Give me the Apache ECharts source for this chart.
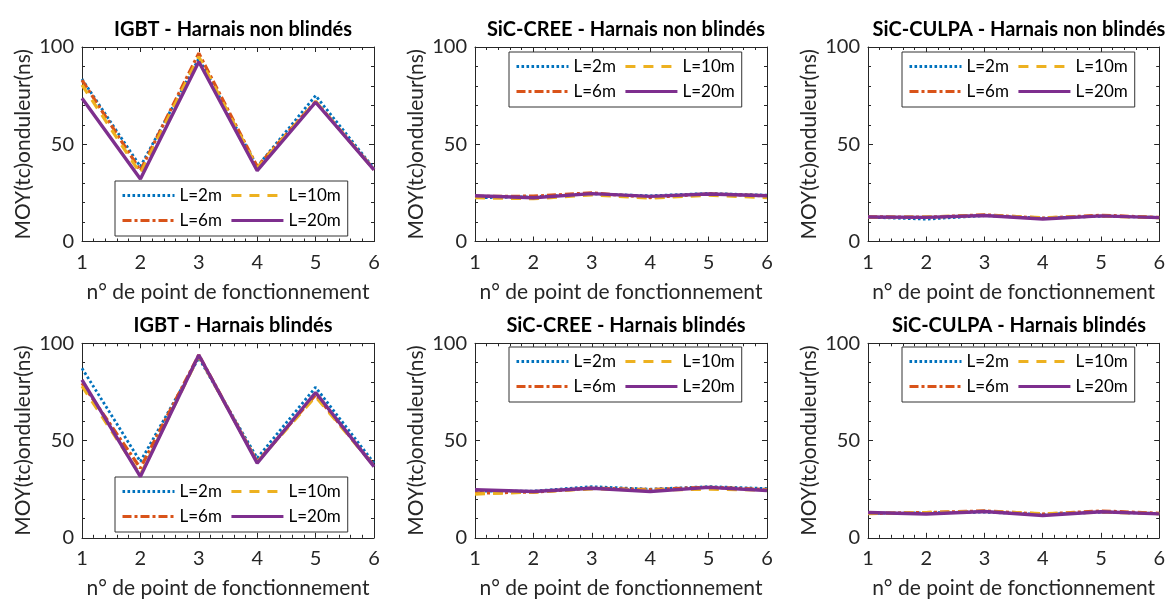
<!DOCTYPE html>
<html><head><meta charset="utf-8">
<script src="https://cdn.jsdelivr.net/npm/echarts@6/dist/echarts.min.js"></script>
<style>html,body{margin:0;padding:0;background:#fff}#chart{width:1168px;height:601px}</style>
</head><body><div id="chart"></div>
<script>
// ---- data ----
const pointNumbers = [1, 2, 3, 4, 5, 6];
const seriesNames = ['L=2m', 'L=6m', 'L=10m', 'L=20m'];
const legendOrder = ['L=2m', 'L=10m', 'L=6m', 'L=20m'];
const panelTitles = [
  'IGBT - Harnais non blindés', 'SiC-CREE - Harnais non blindés', 'SiC-CULPA - Harnais non blindés',
  'IGBT - Harnais blindés', 'SiC-CREE - Harnais blindés', 'SiC-CULPA - Harnais blindés'
];
const xAxisTitle = 'n° de point de fonctionnement';
const yAxisTitle = 'MOY(tc)onduleur(ns)';

// IGBT - non blindés
const igbtNB_2m  = [83.5, 38.5, 94.0, 38.5, 75.0, 37.5];
const igbtNB_6m  = [83.0, 36.5, 96.8, 38.5, 72.0, 37.0];
const igbtNB_10m = [80.5, 35.0, 95.0, 38.0, 72.0, 37.0];
const igbtNB_20m = [73.6, 32.1, 92.4, 36.4, 71.6, 36.8];
// SiC-CREE - non blindés
const creeNB_2m  = [22.5, 23.0, 24.5, 23.5, 24.7, 23.8];
const creeNB_6m  = [23.2, 23.3, 25.0, 22.6, 24.5, 23.5];
const creeNB_10m = [22.5, 22.0, 24.0, 22.3, 23.8, 22.6];
const creeNB_20m = [23.5, 22.5, 24.6, 23.2, 24.4, 23.5];
// SiC-CULPA - non blindés
const culpaNB_2m  = [12.5, 11.5, 13.3, 12.0, 13.0, 12.4];
const culpaNB_6m  = [12.7, 12.5, 13.7, 12.0, 13.5, 12.4];
const culpaNB_10m = [12.4, 12.6, 13.5, 12.2, 13.1, 12.2];
const culpaNB_20m = [12.6, 12.4, 13.4, 11.6, 13.2, 12.3];
// IGBT - blindés
const igbtB_2m  = [87.2, 39.2, 92.5, 41.0, 77.4, 38.4];
const igbtB_6m  = [79.5, 35.8, 94.0, 39.0, 73.5, 37.0];
const igbtB_10m = [78.0, 32.4, 93.5, 39.0, 72.6, 37.0];
const igbtB_20m = [81.2, 31.5, 94.0, 38.4, 74.7, 36.6];
// SiC-CREE - blindés
const creeB_2m  = [24.0, 24.0, 26.3, 25.0, 26.3, 25.3];
const creeB_6m  = [23.0, 23.5, 25.5, 24.8, 26.0, 24.8];
const creeB_10m = [22.5, 23.5, 25.2, 24.5, 25.0, 24.6];
const creeB_20m = [24.7, 23.8, 25.5, 23.8, 25.9, 24.3];
// SiC-CULPA - blindés
const culpaB_2m  = [12.6, 12.8, 13.2, 12.0, 13.2, 12.5];
const culpaB_6m  = [12.5, 13.0, 13.8, 12.2, 13.8, 12.6];
const culpaB_10m = [12.4, 13.0, 13.6, 12.4, 13.2, 12.4];
const culpaB_20m = [13.0, 12.2, 13.5, 11.5, 13.4, 12.3];

const panels = [
  [igbtNB_2m, igbtNB_6m, igbtNB_10m, igbtNB_20m],
  [creeNB_2m, creeNB_6m, creeNB_10m, creeNB_20m],
  [culpaNB_2m, culpaNB_6m, culpaNB_10m, culpaNB_20m],
  [igbtB_2m, igbtB_6m, igbtB_10m, igbtB_20m],
  [creeB_2m, creeB_6m, creeB_10m, creeB_20m],
  [culpaB_2m, culpaB_6m, culpaB_10m, culpaB_20m]
];

// ---- layout & style ----
const FONT = 'Lato';
const AX = '#262626';
const colLefts = [82, 475, 868];
const rowTops = [47, 343.3];
const plotW = 292, plotH = 194.5;
const legendLefts = [115, 509, 902];
const legendTops = [[181, 52, 52], [477, 347, 347]];
const lineStyles = [
  { color: '#0072BD', width: 2.8, type: [2.6, 2.4] },
  { color: '#D95319', width: 3.2, type: [9, 3, 3, 3] },
  { color: '#EDB120', width: 3.2, type: [10, 8] },
  { color: '#7E2F8E', width: 3.4, type: 'solid' }
];

const grid = [], xAxis = [], yAxis = [], series = [], title = [], legend = [];
panels.forEach((panel, p) => {
  const r = Math.floor(p / 3), c = p % 3;
  const left = colLefts[c], top = rowTops[r];
  grid.push({ left: left, top: top, width: plotW, height: plotH, containLabel: false });
  const tickCommon = {
    axisLine: { show: true, onZero: false, lineStyle: { color: AX, width: 1 } },
    axisTick: { show: true, inside: true, length: 5, lineStyle: { color: AX } },
    minorTick: { show: true, splitNumber: 5, length: 3, lineStyle: { color: AX } },
    splitLine: { show: false }, minorSplitLine: { show: false }
  };
  xAxis.push(Object.assign({
    type: 'value', gridIndex: p, position: 'bottom', min: 1, max: 6, interval: 1,
    axisLabel: { show: true, margin: 11, color: AX, fontSize: 20, fontFamily: FONT },
    name: xAxisTitle, nameLocation: 'middle', nameGap: 40,
    nameTextStyle: { color: AX, fontSize: 21, fontFamily: FONT }
  }, tickCommon));
  xAxis.push(Object.assign({
    type: 'value', gridIndex: p, position: 'top', min: 1, max: 6, interval: 1,
    axisLabel: { show: false }
  }, tickCommon));
  yAxis.push(Object.assign({
    type: 'value', gridIndex: p, position: 'left', min: 0, max: 100, interval: 50,
    axisLabel: { show: true, margin: 8, color: AX, fontSize: 20, fontFamily: FONT },
    name: yAxisTitle, nameLocation: 'middle', nameGap: 48,
    nameTextStyle: { color: AX, fontSize: 21, fontFamily: FONT }
  }, tickCommon));
  yAxis.push(Object.assign({
    type: 'value', gridIndex: p, position: 'right', min: 0, max: 100, interval: 50,
    axisLabel: { show: false }
  }, tickCommon));
  title.push({
    text: panelTitles[p], left: left + plotW / 2, top: r === 0 ? 15 : 311, textAlign: 'center',
    textStyle: { color: '#000', fontSize: 20, fontWeight: 'bold', fontFamily: FONT }
  });
  legend.push({
    data: legendOrder, left: legendLefts[c], top: legendTops[r][c], width: 270,
    orient: 'horizontal', itemWidth: 52, itemHeight: 18, itemGap: 8,
    padding: [6, 7, 7, 6], borderColor: '#333', borderWidth: 1, backgroundColor: '#fff',
    textStyle: { color: '#000', fontSize: 17, fontFamily: FONT },
    itemStyle: { opacity: 0 },
    lineStyle: { width: 3 },
    selectedMode: false
  });
  panel.forEach((vals, s) => {
    series.push({
      type: 'line', name: seriesNames[s], xAxisIndex: 2 * p, yAxisIndex: 2 * p,
      data: pointNumbers.map((x, i) => [x, vals[i]]),
      symbol: 'none', lineStyle: lineStyles[s], itemStyle: { color: lineStyles[s].color },
      z: 2 + s, animation: false
    });
  });
});

const chart = echarts.init(document.getElementById('chart'), null, { renderer: 'canvas' });
chart.setOption({ animation: false, backgroundColor: '#fff', grid, xAxis, yAxis, series, title, legend });
</script></body></html>
